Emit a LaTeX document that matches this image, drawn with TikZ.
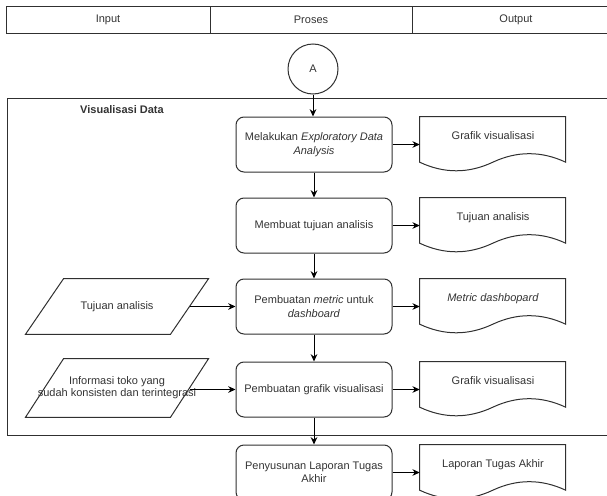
\documentclass[tikz,border=0pt]{standalone}
\usepackage{fontspec}
\setmainfont{Liberation Sans}
\usetikzlibrary{arrows.meta}
\definecolor{lineGray}{HTML}{303030}
\definecolor{textGray}{HTML}{333333}

\begin{document}
\begin{tikzpicture}[
  x=.75pt,y=-.75pt,
  font=\fontsize{8.25}{10}\selectfont,
  cell/.style={rectangle,draw=lineGray,line width=.75pt,minimum height=20.25pt,text=textGray},
  proc/.style={rectangle,rounded corners=6pt,draw=lineGray,line width=.75pt,minimum width=117pt,minimum height=41.25pt,align=center,text=textGray,inner sep=2pt},
  docbox/.style={rectangle,minimum width=109.5pt,minimum height=41.25pt,text height=6pt,text depth=13.5pt,text=textGray},
  inbox/.style={rectangle,minimum width=108.75pt,minimum height=41.25pt,align=center,text=textGray},
  conn/.style={-{Stealth[length=5.5pt,width=5pt]},line width=.75pt,draw=black},
  outline/.style={line width=.75pt,draw=lineGray}
]
\useasboundingbox (0,0) rectangle (607,496);
% Header lanes run past the right page edge, as does the group frame.
% Document and input outlines are drawn around plain helper nodes.
\node[cell,minimum width=153pt] (hdrIn) at (108,19.5) {Input};
\node[cell,minimum width=151.5pt] (hdrPro) at (311,19.5) {Proses};
\node[cell,minimum width=156pt] (hdrOut) at (516,19.5) {Output};
\node[circle,draw=lineGray,line width=.75pt,minimum size=37.5pt,text=textGray] (conA) at (313,69) {A};

\draw[outline] (7,98) rectangle (620,435);
\node[font=\fontsize{8.25}{10}\selectfont\bfseries,text=textGray] (group) at (122,110) {Visualisasi Data};

\node[proc] (proc1) at (314,144.5) {Melakukan \textit{Exploratory Data}\\\textit{Analysis}};
\node[proc] (proc2) at (314,225.5) {Membuat tujuan analisis};
\node[proc] (proc3) at (314,306.5) {Pembuatan \textit{metric} untuk\\\textit{dashboard}};
\node[proc] (proc4) at (314,389.5) {Pembuatan grafik visualisasi};
\node[proc] (proc5) at (314,472.5) {Penyusunan Laporan Tugas\\Akhir};

\node[docbox] (doc1) at (493,144.5) {Grafik visualisasi};
\node[docbox] (doc2) at (493,225.5) {Tujuan analisis};
\node[docbox] (doc3) at (493,306.5) {\textit{Metric dashbopard}};
\node[docbox] (doc4) at (493,389.5) {Grafik visualisasi};
\node[docbox] (doc5) at (493,472.5) {Laporan Tugas Akhir};

\node[inbox] (in1) at (117,306.5) {Tujuan analisis};
\node[inbox,minimum height=43.5pt] (in2) at (117,388) {\makebox[0pt]{Informasi toko yang}\\[-1pt]\makebox[0pt]{sudah konsisten dan terintegrasi}};

\foreach \d in {doc1,doc2,doc3,doc4,doc5}
  \draw[outline,shift={(\d.north west)}] (0,0) -- (146,0) -- (146,45.5)
    .. controls (121.7,34.1) and (97.3,34.1) .. (73,45.5)
    .. controls (48.7,56.9) and (24.3,56.9) .. (0,45.5) -- cycle;
\foreach \p in {in1,in2}
  \draw[outline] ([xshift=-40.125pt]\p.north) -- ([xshift=68.625pt]\p.north)
    -- ([xshift=40.125pt]\p.south) -- ([xshift=-68.625pt]\p.south) -- cycle;

\draw[conn] (conA.south) -- (conA.south |- proc1.north);
\draw[conn] (proc1.south) -- (proc2.north);
\draw[conn] (proc2.south) -- (proc3.north);
\draw[conn] (proc3.south) -- (proc4.north);
\draw[conn] (proc4.south) -- (proc5.north);
\foreach \i in {1,...,5}
  \draw[conn] (proc\i.east) -- (doc\i.west);
\draw[conn] (in1.east) -- (proc3.west);
\draw[conn] (in2.east |- proc4.west) -- (proc4.west);
\end{tikzpicture}
\end{document}
